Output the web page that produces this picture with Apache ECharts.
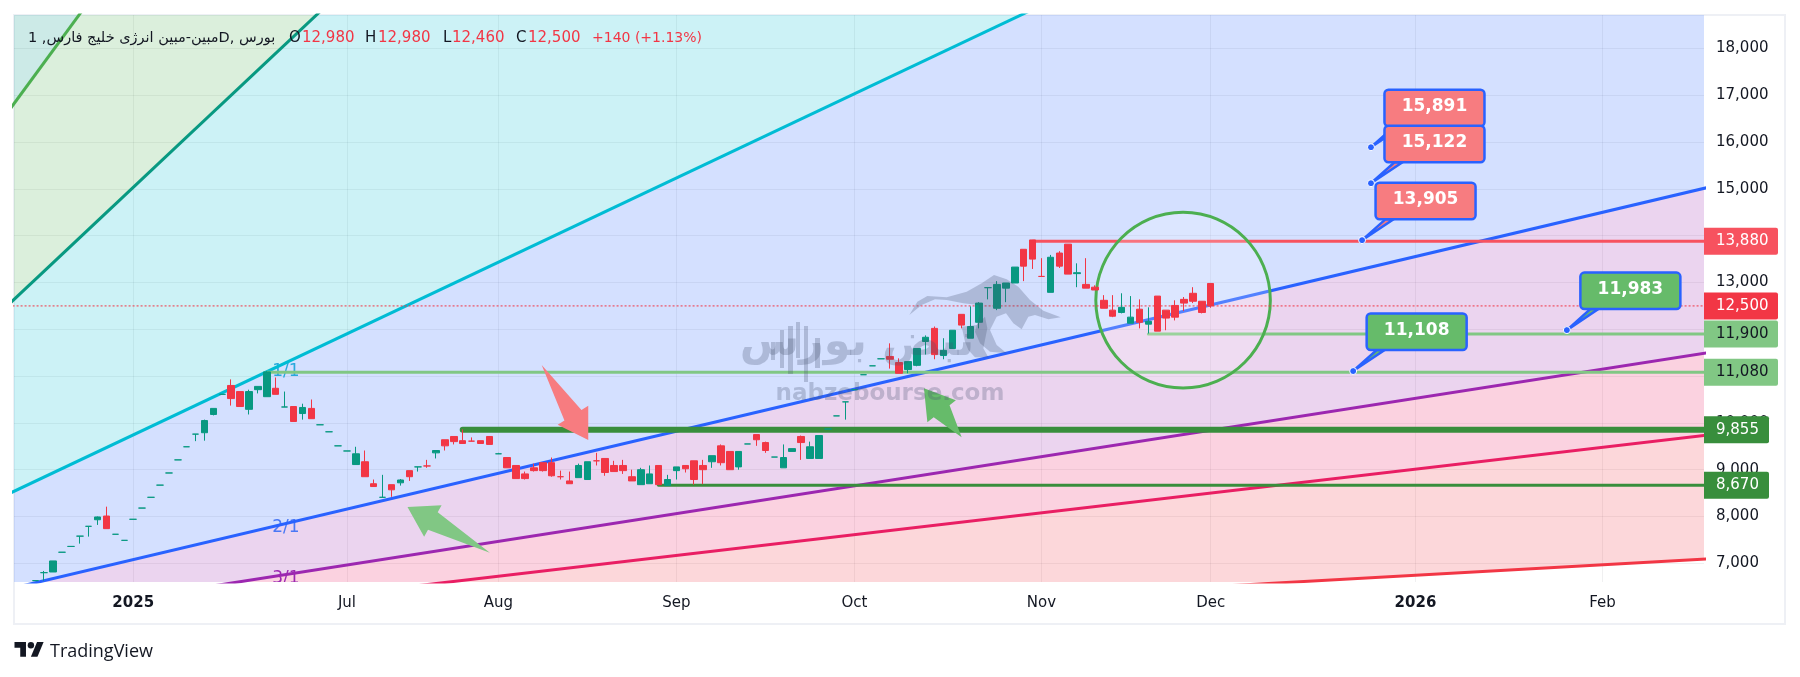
<!DOCTYPE html>
<html>
<head>
<meta charset="utf-8">
<title>chart</title>
<script src="https://cdn.jsdelivr.net/npm/echarts@6/dist/echarts.min.js"></script>
<style>
  html, body { margin: 0; padding: 0; background: #fff; }
  #chart { width: 1800px; height: 677px; }
</style>
</head>
<body>
<div id="chart"></div>
<script>
// bar values, position in the array is the bar index on the x axis
const barOpen = [6630,6800,6814,7236,7360,7580,7790,7930,8010,7620,7490,7940,8180,8410,8670,8930,9210,9490,9760,9790,10180,10610,10800,10670,10290,10710,10560,10740,10340,10350,10200,10310,9960,9810,9510,9400,9110,9170,8700,8410,8680,8720,8980,9060,9080,9360,9640,9710,9620,9610,9620,9710,9340,9260,9090,8910,9040,9150,9150,8850,8760,8830,8790,9190,9240,9090,9090,8850,8680,8700,9090,8660,8980,9090,9190,9090,9170,9510,9390,9060,9550,9750,9580,9270,9040,9390,9710,9240,9240,9870,10150,10450,10710,11030,11220,11370,11420,11290,11140,11230,11740,12020,11440,11590,12320,11810,12150,12890,12450,12880,12990,13710,13910,13130,12790,13630,13820,13190,12960,12900,12620,12410,12360,12130,12430,12110,12710,12410,12510,12640,12770,12600,12980]
const barClose = [6630,6800,7050,7236,7360,7580,7790,7990,7740,7620,7490,7940,8180,8410,8670,8930,9210,9490,9760,10050,10310,10610,10520,10350,10670,10780,11090,10610,10340,10030,10330,10090,9960,9810,9510,9400,9340,8850,8640,8410,8570,8780,8850,9060,9080,9410,9510,9600,9560,9610,9560,9540,9340,9040,8810,8810,8980,8980,8870,8850,8700,9090,9170,9190,8940,8960,8980,8760,9000,8910,8680,8790,9060,9020,8790,9000,9300,9150,9000,9390,9550,9640,9410,9270,9260,9450,9580,9490,9730,9870,10150,10450,10710,11030,11220,11370,11360,11060,11310,11590,11830,11460,11550,11980,12090,12060,12560,12890,12960,12990,13330,13350,13500,13130,13540,13350,13180,13210,12880,12840,12450,12280,12470,12260,12150,12170,11960,12240,12260,12560,12600,12360,12500]
const barLow = [6630,6630,6814,7236,7360,7420,7570,7820,7740,7620,7490,7940,8180,8410,8670,8930,9210,9490,9610,9620,10160,10610,10370,10350,10180,10630,10560,10610,10340,10030,10070,10090,9960,9810,9510,9400,9110,8850,8640,8410,8420,8660,8760,8960,9040,9240,9410,9540,9560,9610,9560,9540,9340,9040,8810,8790,8960,8960,8850,8790,8700,8830,8790,9090,8870,8960,8910,8760,8680,8700,8680,8660,8790,8940,8680,8690,9040,9090,9000,9000,9550,9510,9360,9270,9040,9390,9210,9240,9240,9870,10150,10070,10710,11030,11220,11370,11160,11060,11060,11210,11460,11360,11360,11590,12020,11810,12020,12640,12410,12580,12990,13030,13290,13130,12790,13310,13180,12900,12880,12840,12450,12260,12340,12130,12020,11910,11960,11980,12190,12390,12560,12340,12460]
const barHigh = [6630,6836,7050,7236,7360,7580,7790,8000,8210,7620,7490,7940,8180,8410,8670,8930,9210,9490,9760,10070,10310,10610,10930,10670,10710,10780,11110,10970,10670,10350,10410,10500,9960,9810,9510,9400,9490,9410,8790,8890,8680,8800,8980,9060,9210,9410,9640,9710,9860,9690,9620,9710,9360,9260,9090,8960,9130,9150,9260,8980,8960,9130,9170,9360,9240,9190,9210,9000,9040,9090,9090,8890,9060,9090,9190,9210,9300,9540,9390,9390,9550,9750,9600,9270,9540,9450,9730,9600,9730,9870,10150,10450,10710,11030,11220,11370,11700,11380,11310,11590,11870,12060,11810,11980,12320,12490,12580,12890,13030,12990,13330,13710,13910,13520,13590,13670,13820,13410,13520,12940,12730,12730,12770,12710,12640,12470,12710,12410,12620,12690,12900,12600,12980]
// bars with open == close that are drawn red
const dojiDown = [44, 49, 59, 63, 113]

const xTicks = [11, 35, 52, 72, 92, 113, 132, 155, 176]
const xTickLabels = ['2025', 'Jul', 'Aug', 'Sep', 'Oct', 'Nov', 'Dec', '2026', 'Feb']
const yTicks = [7000, 8000, 9000, 10000, 11000, 12000, 13000, 14000, 15000, 16000, 17000, 18000]

// fan lines, price at both x ends
const fanStart = -3
const fanEnd = 188
const fanLeft = [16665, 12528, 8483, 6449, 5835, 5502, 5055]
const fanRight = [66200, 46718, 25675, 15039, 11505, 9742, 7098]
const fanLabels = ['1/1', '2/1', '3/1']
const fanLabelBar = [28.15, 28.15, 28.15]
const fanLabelPrice = [11088, 7761, 6665]

// horizontal levels
const levelPrice = [13880, 11900, 11080, 9855, 8670]
const levelStartBar = [112, 125, 26, 48, 70]
const lastClose = 12500

// callouts
const calloutBar = [150, 150, 149, 148, 172]
const calloutPrice = [15891, 15122, 13905, 11108, 11983]

// arrows: tail bar, tail price, tip bar, tip price
const arrowRed = [56.87, 11238, 62.1, 9635]
const arrowGreenA = [51.05, 7227, 41.8, 8203]
const arrowGreenB = [104.03, 9693, 99.8, 10740]

// ellipse box: left bar, right bar, top price, bottom price
const ringBox = [119.1, 138.7, 14500, 10745]

const legendTitle = '1 ,مبین-مبین انرژی خلیج فارسD, بورس'
const legendOhlc = ['12,980', '12,980', '12,460', '12,500']
const legendChange = '+140 (+1.13%)'

const UP = '#089981'
const DOWN = '#F23645'
const TEXT = '#131722'
const FONT = '"DejaVu Sans"'
const XMIN = -2.39
const XMAX = 187.4

const fanColors = ['#4CAF50', '#089981', '#00BCD4', '#2962FF', '#9C27B0', '#E91E63', '#F23645']
const bandColors = ['#009688', '#4CAF50', '#00BCD4', '#2962FF', '#9C27B0', '#E91E63', '#F23645']
const levelColors = ['#F7525F', '#81C784', '#81C784', '#388E3C', '#388E3C']
const levelWidths = [3, 3, 3, 6, 3]
const tagPrice = [13880, lastClose, 11900, 11080, 9855, 8670]
const tagFill = ['#F7525F', '#F23645', '#81C784', '#81C784', '#388E3C', '#388E3C']
const tagText = ['#fff', '#fff', TEXT, TEXT, '#fff', '#fff']
const fmt = v => v.toLocaleString('en-US')

const candleData = barOpen.map((o, i) => {
  const item = {value: [i, o, barClose[i], barLow[i], barHigh[i]]}
  if (o === barClose[i]) {
    const c = dojiDown.includes(i) ? DOWN : UP
    item.itemStyle = {color: c, color0: c, borderColor: c, borderColor0: c}
  }
  return item
})

function arrowShape(api, a) {
  const tail = api.coord([a[0], a[1]])
  const tip = api.coord([a[2], a[3]])
  const dx = tip[0] - tail[0]
  const dy = tip[1] - tail[1]
  const len = Math.sqrt(dx * dx + dy * dy)
  const ux = dx / len
  const uy = dy / len
  const neck = [tip[0] - ux * 29, tip[1] - uy * 29]
  const side = (d) => [neck[0] - uy * d, neck[1] + ux * d]
  return [tail, side(10), side(18), tip, side(-18), side(-10)]
}

const bandSeries = {
  type: 'custom',
  coordinateSystem: 'cartesian2d',
  clip: true,
  silent: true,
  z: 1,
  data: bandColors.map((c, i) => [i]),
  renderItem(params, api) {
    const i = api.value(0)
    const upL = i === 0 ? 200000 : fanLeft[i - 1]
    const upR = i === 0 ? 200000 : fanRight[i - 1]
    return {
      type: 'polygon',
      shape: {points: [
        api.coord([fanStart, fanLeft[i]]),
        api.coord([fanEnd, fanRight[i]]),
        api.coord([fanEnd, upR]),
        api.coord([fanStart, upL])
      ]},
      style: {fill: bandColors[i], opacity: 0.2}
    }
  }
}

const fanSeries = fanLeft.map((v, i) => ({
  type: 'line',
  z: 2,
  silent: true,
  showSymbol: false,
  lineStyle: {color: fanColors[i], width: 3},
  data: [[fanStart, v], [fanEnd, fanRight[i]]]
}))

const fanLabelSeries = {
  type: 'custom',
  coordinateSystem: 'cartesian2d',
  clip: true,
  silent: true,
  z: 2,
  data: fanLabels.map((t, i) => [fanLabelBar[i], fanLabelPrice[i]]),
  renderItem(params, api) {
    const p = api.coord([api.value(0), api.value(1)])
    const colors = ['#29A9DC', '#4A78F5', '#9C27B0']
    return {
      type: 'text',
      style: {
        text: fanLabels[params.dataIndex], x: p[0], y: p[1], align: 'center', verticalAlign: 'middle',
        fontFamily: FONT, fontSize: 17, fill: colors[params.dataIndex]
      }
    }
  }
}

const levelSeries = levelPrice.map((v, i) => ({
  type: 'line',
  z: 3,
  silent: true,
  showSymbol: false,
  lineStyle: {color: levelColors[i], width: levelWidths[i], cap: 'round'},
  data: [[levelStartBar[i], v], [XMAX + 1, v]]
}))

const ringSeries = {
  type: 'custom',
  coordinateSystem: 'cartesian2d',
  silent: true,
  z: 4,
  data: [ringBox],
  renderItem(params, api) {
    const a = api.coord([api.value(0), api.value(2)])
    const b = api.coord([api.value(1), api.value(3)])
    return {
      type: 'ellipse',
      shape: {cx: (a[0] + b[0]) / 2, cy: (a[1] + b[1]) / 2, rx: (b[0] - a[0]) / 2, ry: (b[1] - a[1]) / 2},
      style: {fill: 'rgba(255,255,255,0.2)', stroke: '#4CAF50', lineWidth: 3}
    }
  }
}

const lastLine = {
  type: 'line',
  z: 5,
  silent: true,
  showSymbol: false,
  lineStyle: {color: DOWN, width: 1, type: [2, 2]},
  data: [[fanStart, lastClose], [fanEnd, lastClose]]
}

const candles = {
  type: 'candlestick',
  z: 6,
  barWidth: 7,
  silent: true,
  itemStyle: {color: UP, color0: DOWN, borderColor: UP, borderColor0: DOWN, borderWidth: 1},
  data: candleData
}

const arrowSeries = {
  type: 'custom',
  coordinateSystem: 'cartesian2d',
  silent: true,
  z: 7,
  data: [arrowRed, arrowGreenA, arrowGreenB],
  renderItem(params, api) {
    const a = [api.value(0), api.value(1), api.value(2), api.value(3)]
    const fills = ['#F77C80', '#81C784', '#66BB6A']
    return {
      type: 'polygon',
      shape: {points: arrowShape(api, a)},
      style: {fill: fills[params.dataIndex]}
    }
  }
}

const calloutSeries = {
  type: 'custom',
  coordinateSystem: 'cartesian2d',
  clip: false,
  silent: true,
  z: 30,
  data: calloutBar.map((b, i) => [b, calloutPrice[i]]),
  renderItem(params, api) {
    const p = api.coord([api.value(0), api.value(1)])
    const price = api.value(1)
    const fill = params.dataIndex < 3 ? '#F77C80' : '#66BB6A'
    const left = p[0] + 13.5
    const top = p[1] - 57.5
    const w = 100
    const h = 36.5
    const blue = '#2962FF'
    return {
      type: 'group',
      children: [
        {type: 'polygon', shape: {points: [p, [left + 10, top + h], [left + 18, top + h]]},
          style: {fill: fill, stroke: blue, lineWidth: 2.5}},
        {type: 'rect', shape: {x: left, y: top, width: w, height: h, r: 4},
          style: {fill: fill, stroke: blue, lineWidth: 2.5}},
        {type: 'text', style: {text: fmt(price), x: left + w / 2, y: top + h / 2 - 1, align: 'center', verticalAlign: 'middle',
          fontFamily: FONT, fontWeight: 'bold', fontSize: 17, fill: '#fff'}},
        {type: 'circle', shape: {cx: p[0], cy: p[1], r: 3.5}, style: {fill: blue, stroke: '#fff', lineWidth: 1}}
      ]
    }
  }
}

const tagSeries = {
  type: 'custom',
  coordinateSystem: 'cartesian2d',
  clip: false,
  silent: true,
  z: 40,
  data: tagPrice.map(v => [XMAX, v]),
  renderItem(params, api) {
    const p = api.coord([api.value(0), api.value(1)])
    const i = params.dataIndex
    const w = api.value(1) >= 10000 ? 74 : 65
    return {
      type: 'group',
      children: [
        {type: 'rect', shape: {x: p[0], y: p[1] - 13.5, width: w, height: 27, r: [0, 2, 2, 0]}, style: {fill: tagFill[i]}},
        {type: 'text', style: {text: fmt(api.value(1)), x: p[0] + 12, y: p[1], verticalAlign: 'middle',
          fontFamily: FONT, fontSize: 15, fill: tagText[i]}}
      ]
    }
  }
}

// legend row on top of the plot
function legendText(text, x, fill, size) {
  return {type: 'text', z: 25, silent: true, x: x, y: 38,
    style: {text: text, fontFamily: FONT, fontSize: size || 15, fill: fill, verticalAlign: 'middle'}}
}
const legendRow = [
  legendText(legendTitle, 28, TEXT, 14.5),
  legendText('O', 289, TEXT), legendText(legendOhlc[0], 302, DOWN),
  legendText('H', 365, TEXT), legendText(legendOhlc[1], 378, DOWN),
  legendText('L', 443, TEXT), legendText(legendOhlc[2], 452, DOWN),
  legendText('C', 516, TEXT), legendText(legendOhlc[3], 528, DOWN),
  legendText(legendChange, 592, DOWN, 14)
]

// watermark
const WM = 'rgba(70,80,110,0.27)'
const bullPoints = [[208,285],[232,245],[262,228],[320,232],[380,215],[425,190],[462,165],[500,178],[535,200],[570,240],[610,272],[662,292],[625,298],[585,285],[565,290],[545,328],[520,310],[498,280],[470,290],[450,330],[470,375],[500,400],[450,395],[420,370],[405,335],[420,280],[415,255],[370,250],[320,240],[285,238],[245,255]]
  .map(p => [840 + p[0] / 3, 220 + p[1] / 3])
const bullLeg = [[185,170],[230,165],[255,140],[262,175],[250,235],[265,262],[225,262],[205,240],[195,215]]
  .map(p => [900 + p[0] / 3, 270 + p[1] / 3])
const wmBars = [[771,342,4,18],[780,330,4,38],[788,326,5,48],[796,322,4,36],[804,326,4,56],[815,338,5,30]]
const watermark = [
  {type: 'polygon', z: 20, silent: true, shape: {points: bullPoints}, style: {fill: WM}},
  {type: 'polygon', z: 20, silent: true, shape: {points: bullLeg}, style: {fill: WM}},
  {type: 'text', z: 20, silent: true, x: 890, y: 394,
    style: {text: 'nabzebourse.com', fontFamily: FONT, fontWeight: 'bold', fontSize: 23, fill: WM, align: 'center', verticalAlign: 'middle'}},
  {type: 'text', z: 20, silent: true, x: 857, y: 344,
    style: {text: 'نبض بورس', fontFamily: FONT, fontWeight: 'bold', fontSize: 43, fill: WM, align: 'center', verticalAlign: 'middle'}}
].concat(wmBars.map(b => ({type: 'rect', z: 20, silent: true, shape: {x: b[0], y: b[1], width: b[2], height: b[3]}, style: {fill: WM}})))

const frame = [
  {type: 'rect', z: 0, silent: true, shape: {x: 14, y: 15, width: 1771, height: 609}, style: {fill: 'none', stroke: '#EEF0F5', lineWidth: 2}}
]

// tradingview mark, drawn in a 36 unit box
const logoAt = (x, y) => [14.5 + x * 0.82, 638.7 + y * 0.82]
const logo = [
  {type: 'polygon', z: 25, silent: true, shape: {points: [[0,4],[14,4],[14,22],[7,22],[7,11],[0,11]].map(p => logoAt(p[0], p[1]))}, style: {fill: TEXT}},
  {type: 'polygon', z: 25, silent: true, shape: {points: [[27.5,4],[35.5,4],[28,22],[20,22]].map(p => logoAt(p[0], p[1]))}, style: {fill: TEXT}},
  {type: 'circle', z: 25, silent: true, shape: {cx: 14.5 + 20 * 0.82, cy: 638.7 + 8 * 0.82, r: 3.2}, style: {fill: TEXT}},
  {type: 'text', z: 25, silent: true, x: 50, y: 651.5,
    style: {text: 'TradingView', fontFamily: '"Open Sans"', fontSize: 18, fill: TEXT, verticalAlign: 'middle'}}
]

const splitStyle = {show: true, lineStyle: {color: 'rgba(42,46,57,0.07)', width: 1}}

const chart = echarts.init(document.getElementById('chart'))
chart.setOption({
  animation: false,
  backgroundColor: '#fff',
  grid: {left: 14, top: 15, width: 1690, height: 567},
  xAxis: {
    type: 'value',
    min: XMIN,
    max: XMAX,
    axisLine: {show: false},
    axisTick: {show: false, customValues: xTicks},
    splitLine: Object.assign({customValues: xTicks}, splitStyle),
    axisLabel: {
      customValues: xTicks,
      margin: 14,
      fontFamily: FONT,
      fontSize: 15,
      color: TEXT,
      formatter: v => {
        const t = xTickLabels[xTicks.indexOf(v)]
        return /^\d+$/.test(t) ? '{b|' + t + '}' : t
      },
      rich: {b: {fontFamily: FONT, fontSize: 15, fontWeight: 'bold', color: TEXT}}
    }
  },
  yAxis: {
    type: 'value',
    position: 'right',
    min: 6600,
    max: 18717,
    axisLine: {show: false},
    axisTick: {show: false, customValues: yTicks},
    splitLine: Object.assign({customValues: yTicks}, splitStyle),
    axisLabel: {
      customValues: yTicks,
      margin: 12,
      align: 'left',
      fontFamily: FONT,
      fontSize: 15,
      color: TEXT,
      formatter: v => fmt(v)
    }
  },
  graphic: {elements: frame.concat(legendRow, watermark, logo)},
  series: [bandSeries].concat(fanSeries, fanLabelSeries, levelSeries, ringSeries, lastLine, candles, arrowSeries, calloutSeries, tagSeries)
})
</script>
</body>
</html>
